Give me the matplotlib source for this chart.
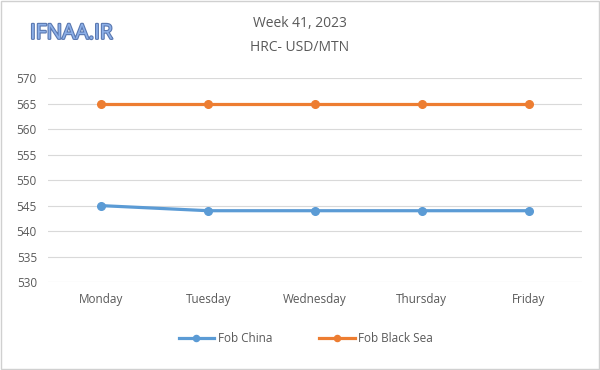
import matplotlib
matplotlib.use("Agg")
import matplotlib.pyplot as plt
import matplotlib.patheffects as pe
from matplotlib.patches import Rectangle

# datos de la semana
dias = ["Monday", "Tuesday", "Wednesday", "Thursday", "Friday"]
fob_china = [545, 544, 544, 544, 544]
fob_black_sea = [565, 565, 565, 565, 565]
yticks = [530, 535, 540, 545, 550, 555, 560, 565, 570]

plt.rcParams["font.family"] = ["Open Sans", "DejaVu Sans"]

fig = plt.figure(figsize=(6, 3.7), dpi=100)
ax = fig.add_axes([0.08, 0.238, 0.89, 0.55])

x = list(range(len(dias)))
ax.plot(x, fob_china, color="#5B9BD5", lw=2.3, marker="o", ms=5.5, label="Fob China")
ax.plot(x, fob_black_sea, color="#ED7D31", lw=2.3, marker="o", ms=5.5, label="Fob Black Sea")

ax.set_xlim(-0.5, 4.5)
ax.set_ylim(530, 570)
ax.set_yticks(yticks)
ax.set_xticks(x)
ax.set_xticklabels(dias)
ax.grid(axis="y", color="#D9D9D9", lw=0.8)
ax.set_axisbelow(True)
for s in ax.spines.values():
    s.set_visible(False)
ax.tick_params(length=0, labelsize=8.5, labelcolor="#595959")
ax.tick_params(axis="y", pad=8)
ax.tick_params(axis="x", pad=8)

fig.text(0.5, 0.937, "Week 41, 2023", ha="center", va="center", fontsize=10, color="#595959")
fig.text(0.5, 0.872, "HRC- USD/MTN", ha="center", va="center", fontsize=10, color="#595959")

# marca de agua
fig.text(0.05, 0.91, "IFNAA.IR", ha="left", va="center", fontsize=15,
         color="#8DB0E8",
         path_effects=[pe.withStroke(linewidth=1.6, foreground="#5A78B0")])

fig.legend(loc="center", bbox_to_anchor=(0.51, 0.085), ncol=2, frameon=False,
           fontsize=8.5, labelcolor="#595959", columnspacing=4.0, handlelength=3,
           handletextpad=0.3, markerscale=0.8)

fig.patches.append(Rectangle((0.002, 0.003), 0.996, 0.994, transform=fig.transFigure,
                             fill=False, ec="#D0D0D0", lw=1))

fig.savefig("out.png", dpi=100)
